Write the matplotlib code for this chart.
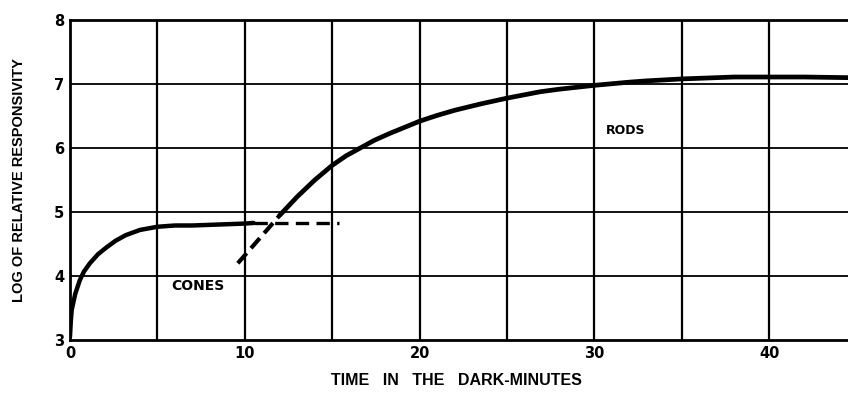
import matplotlib
matplotlib.use("Agg")
import matplotlib.pyplot as plt

# Data
cone_x = [0.0, 0.05, 0.1, 0.3, 0.57, 0.8, 1.14, 1.6, 2.1, 2.6, 3.2, 4.0, 5.0, 6.0, 7.0, 8.0, 9.0, 10.0, 10.5]
cone_y = [3.05, 3.3, 3.47, 3.72, 3.94, 4.07, 4.2, 4.34, 4.45, 4.55, 4.64, 4.72, 4.77, 4.79, 4.79, 4.8, 4.81, 4.82, 4.83]
cone_ext_x = [10.5, 15.4]
cone_ext_y = [4.83, 4.83]

rod_dash_x = [9.6, 10.5, 11.3, 12.0]
rod_dash_y = [4.2, 4.48, 4.73, 4.95]
rod_x = [12.0, 13.0, 14.0, 15.0, 15.8, 16.6, 17.4, 18.3, 19.2, 20.0, 21.0, 22.0, 23.5, 25.0, 26.9, 28.0, 30.0, 32.0, 33.0, 35.0, 37.0, 38.0, 40.0, 42.0, 44.5]
rod_y = [4.95, 5.24, 5.5, 5.73, 5.88, 6.0, 6.12, 6.23, 6.33, 6.42, 6.51, 6.59, 6.69, 6.78, 6.88, 6.92, 6.98, 7.03, 7.05, 7.08, 7.1, 7.11, 7.11, 7.11, 7.1]

x_ticks = [0, 10, 20, 30, 40]
y_ticks = [3, 4, 5, 6, 7, 8]
x_grid = [5, 10, 15, 20, 25, 30, 35, 40]
y_grid = [4, 5, 6, 7]

fig = plt.figure(figsize=(8.48, 4.01), dpi=100)
ax = fig.add_axes([0.0825, 0.152, 0.9175, 0.798])
ax.set_xlim(0, 44.5)
ax.set_ylim(3, 8)

for gx in x_grid:
    ax.axvline(gx, color="black", lw=1.6, zorder=1)
for gy in y_grid:
    ax.axhline(gy, color="black", lw=1.3, zorder=1)

ax.plot(cone_x, cone_y, color="black", lw=3.2, solid_capstyle="round", zorder=3)
ax.plot(cone_ext_x, cone_ext_y, color="black", lw=2.4, dashes=(4, 2.2), zorder=3)
ax.plot(rod_dash_x, rod_dash_y, color="black", lw=3.0, dashes=(3.2, 1.6), zorder=3)
ax.plot(rod_x, rod_y, color="black", lw=3.4, solid_capstyle="round", zorder=3)

ax.text(7.3, 3.84, "CONES", fontsize=10, fontweight="bold", ha="center", va="center", family="DejaVu Sans")
ax.text(31.8, 6.27, "RODS", fontsize=9, fontweight="bold", ha="center", va="center", family="DejaVu Sans")

for s in ["top", "bottom", "left"]:
    ax.spines[s].set_linewidth(2)
    ax.spines[s].set_color("black")
ax.spines["right"].set_visible(False)

ax.set_xticks(x_ticks)
ax.set_yticks(y_ticks)
ax.tick_params(length=0, labelsize=10.5, pad=4)
for lab in ax.get_xticklabels() + ax.get_yticklabels():
    lab.set_fontweight("bold")

fig.text(0.538, 0.052, "TIME   IN   THE   DARK-MINUTES", ha="center", va="center",
         fontsize=11.5, fontweight="bold", family="Liberation Sans")
fig.text(0.022, 0.55, "LOG OF RELATIVE RESPONSIVITY", ha="center", va="center",
         rotation=90, fontsize=10.5, fontweight="bold", family="Liberation Sans")

fig.savefig("out.png", dpi=100)
